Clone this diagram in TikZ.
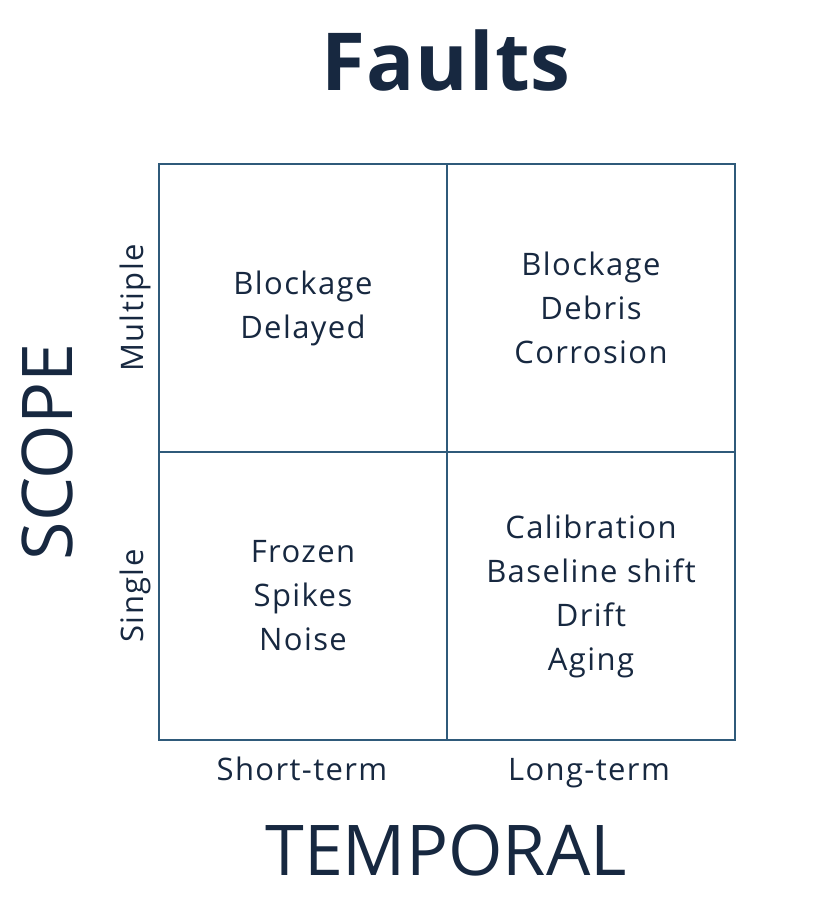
\documentclass[tikz,border=0pt]{standalone}
\usepackage{fontspec}
\setmainfont{Open Sans}
\newfontfamily\cellfont[LetterSpace=4.5]{Open Sans}
\newfontfamily\headfont[LetterSpace=1.5]{Open Sans}
\usepackage{xcolor}
\usepackage{tikz}
\usetikzlibrary{positioning}
\definecolor{faultnavy}{RGB}{23, 40, 64}
\definecolor{gridblue}{RGB}{47, 90, 122}

\begin{document}
\begin{tikzpicture}[
  x=1pt, y=-1pt,
  every node/.style={text=faultnavy},
  cell/.style={draw=gridblue, line width=2pt, minimum width=288pt, minimum height=288pt, inner sep=0pt, align=center, font=\cellfont\fontsize{31}{44}\selectfont},
  tick/.style={font=\cellfont\fontsize{31}{34}\selectfont, inner sep=0pt, anchor=base},
  axis/.style={font=\fontsize{70}{80}\selectfont, inner sep=0pt, anchor=base},
  heading/.style={font=\headfont\fontsize{80}{90}\selectfont\bfseries, inner sep=0pt, anchor=base}
]
  \useasboundingbox (0, 0) rectangle (826, 916);

  \node[heading] (title) at (446, 90) {Faults};

  % Vier Felder
  \node[cell] (multshort) at (303, 308) {Blockage\\ Delayed};
  \node[cell] (multlong) at (591, 308) {Blockage\\ Debris\\ Corrosion};
  \node[cell] (singshort) at (303, 596) {Frozen\\ Spikes\\ Noise};
  \node[cell] (singlong) at (591, 596) {Calibration\\ Baseline shift\\ Drift\\ Aging};

  % Achsen
  \node[tick] (short) at (302, 780) {Short-term};
  \node[tick] (long) at (589, 780) {Long-term};
  \node[tick, rotate=90] (multiple) at (143, 308) {Multiple};
  \node[tick, rotate=90] (single) at (143, 596) {Single};

  \node[axis, rotate=90] (scope) at (72, 452) {SCOPE};
  \node[axis] (temporal) at (446, 875) {TEMPORAL};

\end{tikzpicture}
\end{document}
